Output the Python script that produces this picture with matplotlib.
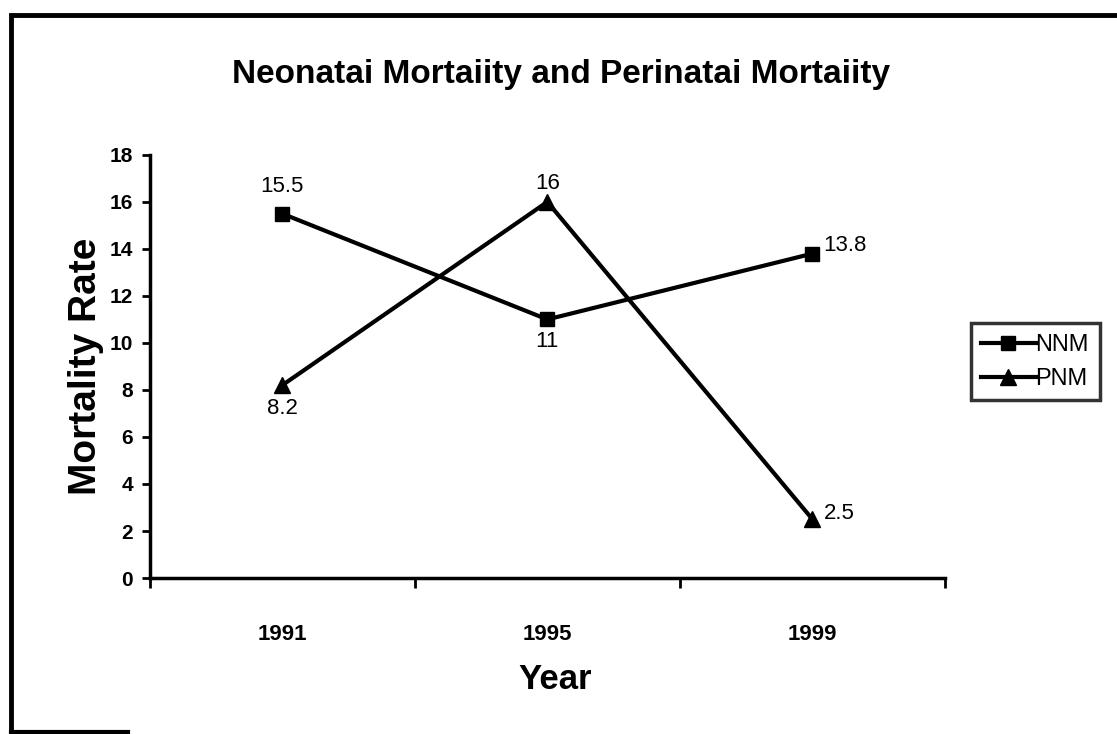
import matplotlib.pyplot as plt
from matplotlib.patches import Rectangle
from matplotlib.lines import Line2D

years = ['1991', '1995', '1999']
nnm = [15.5, 11, 13.8]
pnm = [8.2, 16, 2.5]

plt.rcParams['font.family'] = ['Liberation Sans', 'DejaVu Sans']

fig = plt.figure(figsize=(11.17, 7.34), dpi=100)
ax = fig.add_axes([0.134, 0.2125, 0.712, 0.5765])

x = list(range(len(years)))
ax.plot(x, nnm, color='black', lw=3, marker='s', ms=10, label='NNM')
ax.plot(x, pnm, color='black', lw=3, marker='^', ms=11, label='PNM')

# value labels
lbl = dict(textcoords='offset points', fontsize=16)
ax.annotate('15.5', (0, nnm[0]), xytext=(0, 12), ha='center', va='bottom', **lbl)
ax.annotate('11', (1, nnm[1]), xytext=(0, -8), ha='center', va='top', **lbl)
ax.annotate('13.8', (2, nnm[2]), xytext=(8, 6), ha='left', va='center', **lbl)
ax.annotate('8.2', (0, pnm[0]), xytext=(0, -9), ha='center', va='top', **lbl)
ax.annotate('16', (1, pnm[1]), xytext=(0, 6), ha='center', va='bottom', **lbl)
ax.annotate('2.5', (2, pnm[2]), xytext=(8, 4), ha='left', va='center', **lbl)

ax.set_xlim(-0.5, 2.5)
ax.set_ylim(0, 18)
ax.set_yticks(range(0, 19, 2))
ax.set_xticks([-0.5, 0.5, 1.5, 2.5])
ax.set_xticklabels([])
ax.set_xticks(x, minor=True)
ax.set_xticklabels(years, minor=True)
ax.tick_params(axis='x', which='minor', length=0, pad=33, labelsize=16)
ax.tick_params(axis='x', which='major', length=7, width=2)
ax.tick_params(axis='y', length=6, width=2, labelsize=15, pad=6)
for lab in ax.get_yticklabels() + ax.get_xticklabels(minor=True):
    lab.set_fontweight('bold')

for side in ['top', 'right']:
    ax.spines[side].set_visible(False)
for side in ['left', 'bottom']:
    ax.spines[side].set_linewidth(2.5)

ax.set_ylabel('Mortality Rate', fontsize=28, fontweight='bold')
ax.yaxis.set_label_coords(-0.058, 0.5)
ax.set_xlabel('Year', fontsize=25, fontweight='bold')
ax.xaxis.set_label_coords(0.51, -0.2)

fig.text(0.502, 0.898, 'Neonatai Mortaiity and Perinatai Mortaiity',
         ha='center', va='center', fontsize=24, fontweight='bold')

leg = fig.legend(loc='center left', bbox_to_anchor=(0.869, 0.507),
                 fontsize=17, frameon=True, fancybox=False, edgecolor='black',
                 handlelength=2.3, handletextpad=0.0, borderpad=0.45,
                 labelspacing=0.5, borderaxespad=0)
leg.get_frame().set_linewidth(2.5)

# scanned page border
fig.patches.append(Rectangle((0.0095, -0.01), 1.1, 0.99, transform=fig.transFigure,
                             fill=False, edgecolor='black', lw=3.5))
fig.lines.append(Line2D([0.0095, 0.115], [0.003, 0.003], transform=fig.transFigure,
                        color='black', lw=3))

fig.savefig('out.png', dpi=100, facecolor='white')
